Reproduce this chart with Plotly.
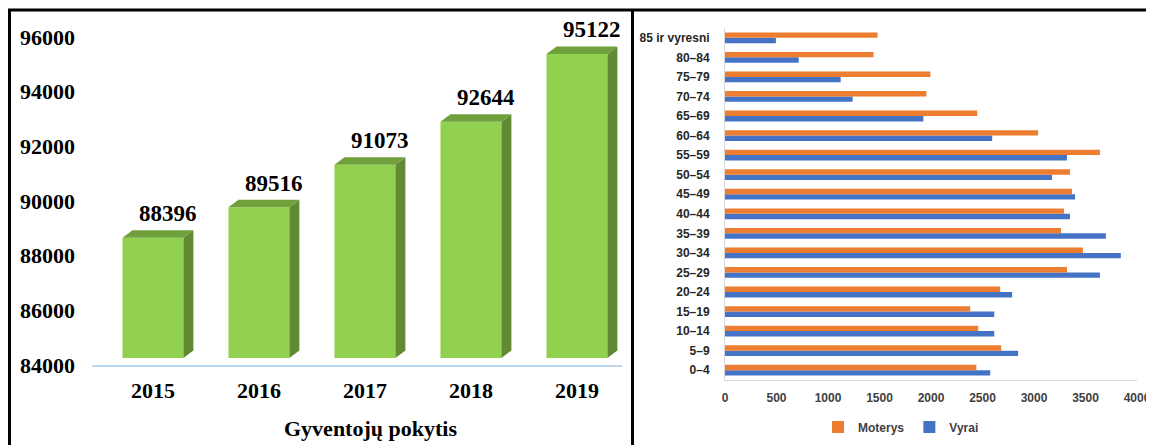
import plotly.graph_objects as go

# ---- Left chart data ----
years = ["2015", "2016", "2017", "2018", "2019"]
population = [88396, 89516, 91073, 92644, 95122]
left_title = "Gyventojų pokytis"

# ---- Right chart data ----
age_groups = ["0–4", "5–9", "10–14", "15–19", "20–24", "25–29", "30–34", "35–39",
              "40–44", "45–49", "50–54", "55–59", "60–64", "65–69", "70–74",
              "75–79", "80–84", "85 ir vyresni"]
moterys = [2440, 2681, 2459, 2381, 2672, 3320, 3475, 3262, 3291, 3369, 3349,
           3640, 3040, 2449, 1955, 1994, 1442, 1481]
vyrai = [2575, 2846, 2614, 2614, 2788, 3640, 3843, 3698, 3349, 3398, 3175,
         3320, 2594, 1926, 1239, 1123, 716, 494]

# page has an 8px body margin; figure fills the rest of the 1154x445 window
OX, OY = 8, 8
W, H = 1154 - OX, 445 - OY


def px(x):
    return (x - OX) / W


def py(y):
    return (H - (y - OY)) / H


SERIF = "Liberation Serif"
SANS = "Liberation Sans"

fig = go.Figure()

# 3D-look geometry (projection offsets)
bw = 0.575          # bar width in category units
dx = 0.094          # depth, horizontal (category units)
dy = 275            # depth, vertical (value units)
off = 256           # front face lift (value units)
ymin, ymax = 84000, 96000

idx = list(range(len(years)))
fig.add_trace(go.Bar(
    x=idx, y=[v - ymin for v in population], base=[ymin + off] * len(idx),
    width=bw, marker=dict(color="#92D050", line=dict(width=0)),
    xaxis="x", yaxis="y", showlegend=False, hoverinfo="skip"))

for i, v in zip(idx, population):
    b = ymin + off
    t = v + off
    fig.add_trace(go.Scatter(
        x=[i + bw / 2, i + bw / 2 + dx, i + bw / 2 + dx, i + bw / 2, i + bw / 2],
        y=[b, b + dy, t + dy, t, b], mode="lines", fill="toself",
        fillcolor="#628934", line=dict(width=0, color="#628934"),
        xaxis="x", yaxis="y", showlegend=False, hoverinfo="skip"))
    fig.add_trace(go.Scatter(
        x=[i - bw / 2, i - bw / 2 + dx, i + bw / 2 + dx, i + bw / 2, i - bw / 2],
        y=[t, t + dy, t + dy, t, t], mode="lines", fill="toself",
        fillcolor="#70A03C", line=dict(width=0, color="#70A03C"),
        xaxis="x", yaxis="y", showlegend=False, hoverinfo="skip"))
    fig.add_annotation(x=i + 0.14, y=t + dy, xref="x", yref="y", text=str(v),
                       showarrow=False, yanchor="bottom", yshift=2,
                       font=dict(family=SERIF, size=23, color="#000000", weight=700))

# Right chart bars
fig.add_trace(go.Bar(y=age_groups, x=vyrai, orientation="h", name="Vyrai",
                     marker=dict(color="#4472C4", line=dict(width=0)),
                     xaxis="x2", yaxis="y2"))
fig.add_trace(go.Bar(y=age_groups, x=moterys, orientation="h", name="Moterys",
                     marker=dict(color="#ED7D31", line=dict(width=0)),
                     xaxis="x2", yaxis="y2"))

fig.add_annotation(x=px(370), y=py(428), xref="paper", yref="paper",
                   text=left_title, showarrow=False, xanchor="center", yanchor="middle",
                   font=dict(family=SERIF, size=22, color="#000000", weight=700))

# Border lines
border = dict(color="#000000", width=3)
fig.add_shape(type="line", xref="paper", yref="paper", x0=px(8), x1=1.0,
              y0=py(10), y1=py(10), line=border)
fig.add_shape(type="line", xref="paper", yref="paper", x0=px(9.5), x1=px(9.5),
              y0=0, y1=py(10), line=border)
fig.add_shape(type="line", xref="paper", yref="paper", x0=px(632.5), x1=px(632.5),
              y0=0, y1=py(10), line=border)

fig.update_layout(
    width=W, height=H, margin=dict(l=0, r=0, t=0, b=0, autoexpand=False),
    paper_bgcolor="white", plot_bgcolor="white",
    barmode="group", bargap=0.45, bargroupgap=0,
    xaxis=dict(domain=[px(92), px(622)], range=[-0.575, 4.425],
               tickvals=idx, ticktext=years, showgrid=False, zeroline=False,
               showline=True, linecolor="#BDD7EE", linewidth=1.5,
               ticks="", ticklabelstandoff=5,
               tickfont=dict(family=SERIF, size=22, color="#000000", weight=700)),
    yaxis=dict(domain=[py(365), py(37)], range=[ymin, ymax],
               dtick=2000, tickformat="d", showgrid=False, zeroline=False, showline=False,
               ticks="", ticklabelstandoff=16,
               tickfont=dict(family=SERIF, size=22, color="#000000", weight=700)),
    xaxis2=dict(domain=[px(725), px(1137)], range=[0, 4000], dtick=500,
                anchor="y2", showgrid=False, zeroline=False,
                showline=True, linecolor="#D9D9D9", linewidth=1,
                ticks="", ticklabelstandoff=7,
                tickfont=dict(family=SANS, size=12, color="#404040", weight=700)),
    yaxis2=dict(domain=[py(380), py(28)], anchor="x2",
                type="category", showgrid=False, zeroline=False,
                showline=True, linecolor="#D9D9D9", linewidth=1,
                ticks="", ticklabelstandoff=12,
                tickfont=dict(family=SANS, size=12, color="#262626", weight=700)),
    legend=dict(orientation="h", x=px(901), xanchor="center",
                y=py(427), yanchor="middle", traceorder="reversed",
                font=dict(family=SANS, size=12, color="#404040", weight=700),
                itemwidth=30, bgcolor="rgba(0,0,0,0)"),
)

fig.write_html("out.html")
